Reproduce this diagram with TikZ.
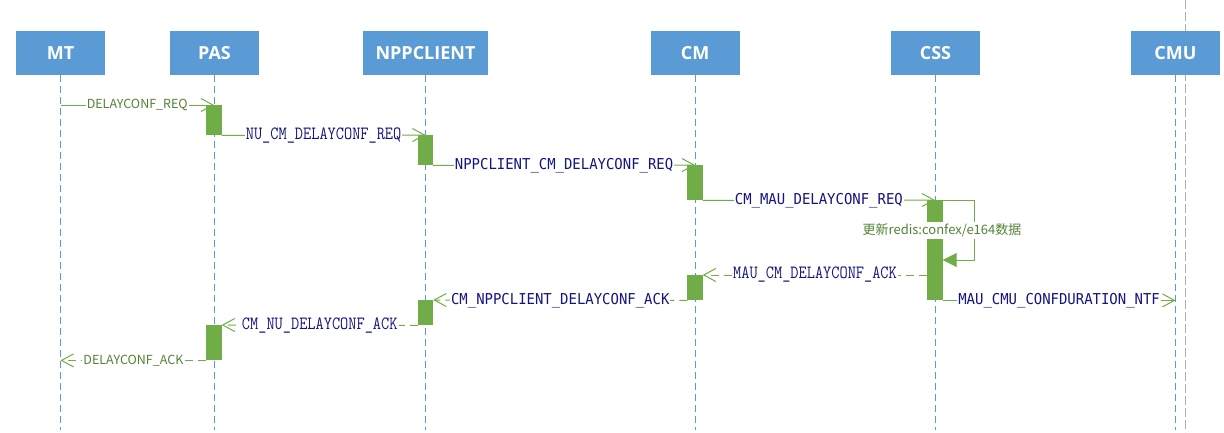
\documentclass[tikz,border=0pt]{standalone}
\usepackage{fontspec}
\usetikzlibrary{arrows.meta}
\newfontfamily\headfont{Open Sans}
\newfontfamily\cjkfont{Noto Sans CJK SC}
\newfontfamily\thinmono{Latin Modern Mono}[FakeStretch=0.85]
\newfontfamily\boldmono[FakeStretch=0.93]{DejaVu Sans Mono}
\definecolor{headblue}{RGB}{91,155,213}
\definecolor{actgreen}{RGB}{112,173,71}
\definecolor{txtgreen}{RGB}{84,130,53}
\definecolor{msgblue}{RGB}{20,20,130}
\definecolor{guidegray}{RGB}{175,175,175}

\begin{document}
\begin{tikzpicture}[x=1pt, y=-1pt,
	head/.style={fill=headblue, text=white, minimum height=44pt, inner sep=0pt, font=\headfont\bfseries\fontsize{18}{18}\selectfont},
	life/.style={draw=headblue, line width=0.8pt, dash pattern=on 7pt off 4pt},
	act/.style={fill=actgreen, minimum width=15pt, inner sep=0pt, anchor=north},
	req/.style={draw=actgreen, line width=1pt, -{Straight Barb[length=12pt,width=13pt,line width=1pt]}},
	ack/.style={req, dash pattern=on 8pt off 5pt},
	selfloop/.style={draw=actgreen, line width=1pt, -{Triangle[length=14pt,width=14pt]}},
	lblgreen/.style={fill=white, inner sep=1pt, text=txtgreen, font=\cjkfont\fontsize{12.5}{13}\selectfont},
	lblthin/.style={fill=white, inner sep=1pt, text=msgblue, font=\thinmono\fontsize{18.7}{18}\selectfont},
	lblbold/.style={fill=white, inner sep=1pt, text=msgblue, font=\boldmono\fontsize{15}{15}\selectfont},
	]
	\useasboundingbox (0,0) rectangle (1224,432);

	% stray guide line right of CMU
	\coordinate (guidetop) at (1185,0);
	\coordinate (guidebot) at (1185,432);
	\draw[guidegray, line width=0.8pt, dash pattern=on 9pt off 3pt] (guidetop) -- (guidebot);

	% participants and lifelines
	\foreach \name/\x/\w/\txt in {mt/60.5/89/MT, pas/214.5/89/PAS, npp/425.5/125/NPPCLIENT, cm/695/89/CM, css/935.5/89/CSS, cmu/1175.5/89/CMU}{
		\node[head, minimum width=\w pt] (\name) at (\x,53) {\txt};
		\coordinate (\name-end) at (\x,430);
		\draw[life] (\name.south) -- (\name-end);
	}

	% activation bars (placed only, filled later)
	\path
		(214,105) node[act, minimum height=30pt] (pas-a1) {}
		(425.5,135) node[act, minimum height=30pt] (npp-a1) {}
		(695,165) node[act, minimum height=35pt] (cm-a1) {}
		(935,200) node[act, minimum height=100pt] (css-a) {}
		(695,275) node[act, minimum height=25pt] (cm-a2) {}
		(425.5,300) node[act, minimum height=25pt] (npp-a2) {}
		(214,325) node[act, minimum height=35pt] (pas-a2) {};

	% requests
	\draw[req] (pas-a1.north -| mt) -- node[lblgreen] {DELAYCONF\_REQ} (pas-a1.north);
	\draw[req] (pas-a1.south east) -- node[lblthin] {NU\_CM\_DELAYCONF\_REQ} (npp-a1.north);
	\draw[req] (npp-a1.south east) -- node[lblbold] {NPPCLIENT\_CM\_DELAYCONF\_REQ} (cm-a1.north);
	\draw[req] (cm-a1.south east) -- node[lblbold] {CM\_MAU\_DELAYCONF\_REQ} (css-a.north);
	\draw[req] (css-a.south east) -- node[lblbold] {MAU\_CMU\_CONFDURATION\_NTF} (css-a.south -| cmu);

	% acknowledgements
	\draw[ack] (css-a.west |- cm-a2.north) -- node[lblthin] {MAU\_CM\_DELAYCONF\_ACK} (cm-a2.north east);
	\draw[ack] (cm-a2.south west) -- node[lblbold] {CM\_NPPCLIENT\_DELAYCONF\_ACK} (npp-a2.north east);
	\draw[ack] (npp-a2.south west) -- node[lblthin] {CM\_NU\_DELAYCONF\_ACK} (pas-a2.north east);
	\draw[ack] (pas-a2.south west) -- node[lblgreen] {DELAYCONF\_ACK} (pas-a2.south -| mt);

	% bars over the arrow ends
	\foreach \bar in {pas-a1, npp-a1, cm-a1, css-a, cm-a2, npp-a2, pas-a2}
		\fill[actgreen] (\bar.north west) rectangle (\bar.south east);

	% self call on CSS
	\coordinate (loopturn) at (974,260);
	\draw[selfloop] (css-a.north east) -| (loopturn) -- (loopturn -| css-a.east);
	\node[lblgreen, inner sep=2pt, font=\cjkfont\fontsize{13}{13}\selectfont] (update) at (942,230.5) {更新redis:confex/e164数据};
\end{tikzpicture}
\end{document}
